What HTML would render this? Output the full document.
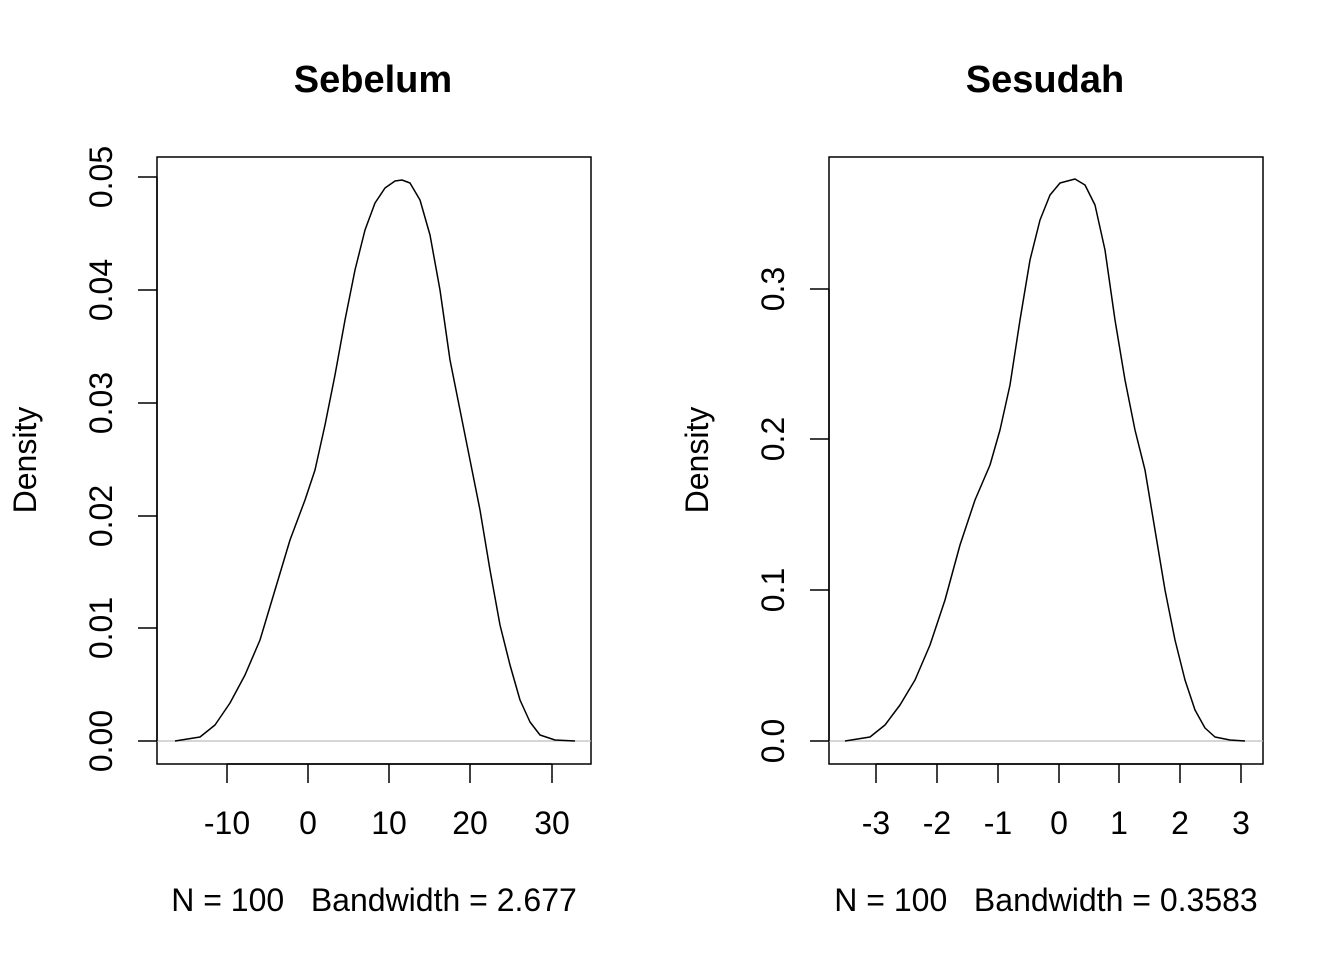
<!DOCTYPE html>
<html><head><meta charset="utf-8"><style>
html,body{margin:0;padding:0;background:#fff;}
svg text{font-family:"Liberation Sans",Arial,sans-serif;fill:#000;white-space:pre;}
</style></head><body>
<svg width="1344" height="960" viewBox="0 0 1344 960" xmlns="http://www.w3.org/2000/svg" xml:space="preserve">
<rect width="1344" height="960" fill="#fff"/>
<!-- Left panel -->
<text x="373" y="92" font-size="38" font-weight="bold" text-anchor="middle">Sebelum</text>
<rect x="157" y="157" width="434" height="607" fill="none" stroke="#000" stroke-width="1.5"/>
<line x1="157" y1="741" x2="591" y2="741" stroke="#bebebe" stroke-width="1.2"/>
<g stroke="#000" stroke-width="1.5">
<line x1="227" y1="764" x2="552" y2="764"/>
<line x1="227" y1="764" x2="227" y2="783"/><line x1="308" y1="764" x2="308" y2="783"/><line x1="389" y1="764" x2="389" y2="783"/><line x1="470" y1="764" x2="470" y2="783"/><line x1="552" y1="764" x2="552" y2="783"/>
<line x1="157" y1="177" x2="157" y2="741"/>
<line x1="138" y1="741" x2="157" y2="741"/><line x1="138" y1="628" x2="157" y2="628"/><line x1="138" y1="516" x2="157" y2="516"/><line x1="138" y1="403" x2="157" y2="403"/><line x1="138" y1="290" x2="157" y2="290"/><line x1="138" y1="177" x2="157" y2="177"/>
</g>
<g font-size="32" text-anchor="middle">
<text x="227" y="834">-10</text><text x="308" y="834">0</text><text x="389" y="834">10</text><text x="470" y="834">20</text><text x="552" y="834">30</text>
<text x="374" y="911">N = 100   Bandwidth = 2.677</text>
</g>
<g font-size="32" text-anchor="middle">
<text transform="translate(112,741) rotate(-90)">0.00</text>
<text transform="translate(112,628) rotate(-90)">0.01</text>
<text transform="translate(112,516) rotate(-90)">0.02</text>
<text transform="translate(112,403) rotate(-90)">0.03</text>
<text transform="translate(112,290) rotate(-90)">0.04</text>
<text transform="translate(112,177) rotate(-90)">0.05</text>
<text transform="translate(36,460) rotate(-90)">Density</text>
</g>
<polyline fill="none" stroke="#000" stroke-width="1.5" stroke-linejoin="round" points="175,741 200,737 215,725 230,703 245,675 260,640 275,590 290,540 305,500 315,470 325,425 335,375 345,320 355,270 365,230 375,203 385,188 395,181 402,180 410,183 420,200 430,235 440,290 450,360 460,410 470,460 480,510 490,570 500,625 510,665 520,700 530,722 540,735 555,740 575,741"/>
<!-- Right panel -->
<text x="1045" y="92" font-size="38" font-weight="bold" text-anchor="middle">Sesudah</text>
<rect x="829" y="157" width="434" height="607" fill="none" stroke="#000" stroke-width="1.5"/>
<line x1="829" y1="741" x2="1263" y2="741" stroke="#bebebe" stroke-width="1.2"/>
<g stroke="#000" stroke-width="1.5">
<line x1="876" y1="764" x2="1241" y2="764"/>
<line x1="876" y1="764" x2="876" y2="783"/><line x1="937" y1="764" x2="937" y2="783"/><line x1="998" y1="764" x2="998" y2="783"/><line x1="1059" y1="764" x2="1059" y2="783"/><line x1="1119" y1="764" x2="1119" y2="783"/><line x1="1180" y1="764" x2="1180" y2="783"/><line x1="1241" y1="764" x2="1241" y2="783"/>
<line x1="829" y1="289" x2="829" y2="741"/>
<line x1="810" y1="741" x2="829" y2="741"/><line x1="810" y1="590" x2="829" y2="590"/><line x1="810" y1="439" x2="829" y2="439"/><line x1="810" y1="289" x2="829" y2="289"/>
</g>
<g font-size="32" text-anchor="middle">
<text x="876" y="834">-3</text><text x="937" y="834">-2</text><text x="998" y="834">-1</text><text x="1059" y="834">0</text><text x="1119" y="834">1</text><text x="1180" y="834">2</text><text x="1241" y="834">3</text>
<text x="1046" y="911">N = 100   Bandwidth = 0.3583</text>
</g>
<g font-size="32" text-anchor="middle">
<text transform="translate(784,741) rotate(-90)">0.0</text>
<text transform="translate(784,590) rotate(-90)">0.1</text>
<text transform="translate(784,439) rotate(-90)">0.2</text>
<text transform="translate(784,289) rotate(-90)">0.3</text>
<text transform="translate(708,460) rotate(-90)">Density</text>
</g>
<polyline fill="none" stroke="#000" stroke-width="1.5" stroke-linejoin="round" points="845,741 870,737 885,725 900,705 915,680 930,645 945,600 960,545 975,500 990,465 1000,430 1010,385 1020,320 1030,260 1040,220 1050,195 1060,183 1075,179 1085,185 1095,205 1105,250 1115,320 1125,380 1135,430 1145,470 1155,530 1165,590 1175,640 1185,680 1195,710 1205,728 1215,737 1230,740 1245,741"/>
</svg>
</body></html>
